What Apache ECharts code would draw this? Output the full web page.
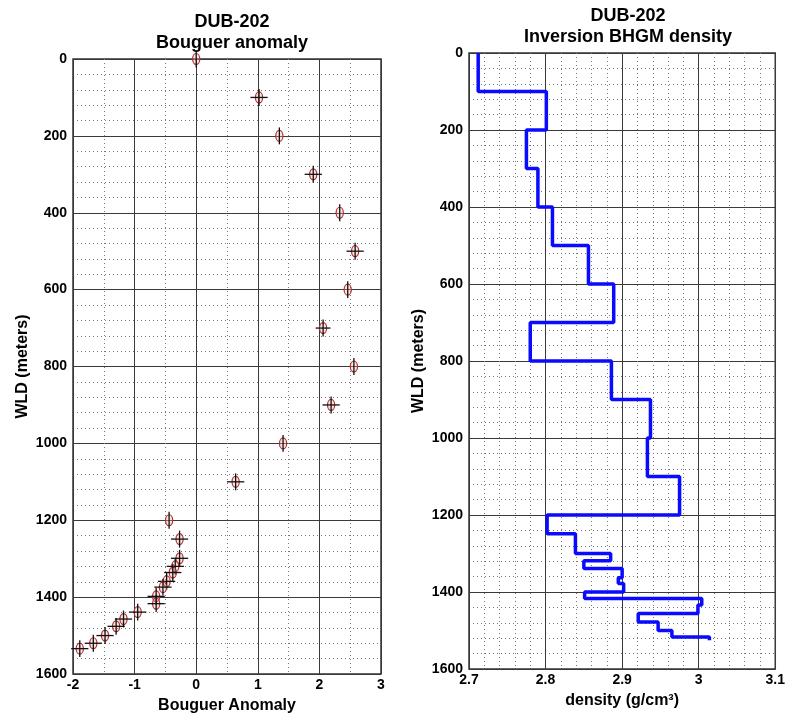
<!DOCTYPE html>
<html><head><meta charset="utf-8">
<script src="https://cdn.jsdelivr.net/npm/echarts@6/dist/echarts.min.js"></script>
<style>html,body{margin:0;padding:0;background:#fff}#c{width:788px;height:721px}</style>
</head><body><div id="c"></div>
<script>
// ---- Left panel: Bouguer anomaly measurements ----
const anomalyDepth = [0,100,200,300,400,500,600,700,800,900,1000,1100,1200,1249,1299,1320,1336,1359,1374,1398,1417,1439,1457,1476,1500,1520,1534];
const anomalyValue = [0.0,1.02,1.35,1.90,2.33,2.58,2.46,2.06,2.56,2.19,1.41,0.64,-0.44,-0.27,-0.27,-0.34,-0.38,-0.48,-0.54,-0.65,-0.65,-0.95,-1.18,-1.30,-1.48,-1.67,-1.89];
const anomalyXErr  = [0,0.14,0,0.14,0,0.14,0,0.12,0,0.14,0,0.14,0,0.14,0.14,0.14,0.14,0.14,0.14,0.14,0.14,0.14,0.14,0.14,0.14,0.14,0.14];
const anomalyYErr  = [22,22,22,22,22,22,22,22,22,22,22,22,22,22,22,22,22,22,22,22,22,22,22,22,22,22,22];
// ---- Right panel: inverted density layers ----
const layerTop     = [0,100,200,300,400,500,600,700,800,900,1000,1100,1200,1249,1300,1319,1339,1363,1378,1400,1417,1434,1456,1478,1500,1517];
const layerDensity = [2.712,2.801,2.775,2.790,2.809,2.856,2.889,2.780,2.886,2.937,2.933,2.975,2.802,2.839,2.885,2.850,2.900,2.895,2.902,2.851,3.004,2.999,2.921,2.947,2.965,3.014];
const layerBottomLast = 1525;
// ---- Axis ticks ----
const depthTicks   = [0,200,400,600,800,1000,1200,1400,1600];
const anomalyTicks = [-2,-1,0,1,2,3];
const densityTicks = [2.7,2.8,2.9,3.0,3.1];

const anomalyData = anomalyDepth.map((d,i)=>[anomalyValue[i], d, anomalyXErr[i], anomalyYErr[i]]);
const stepData = [];
layerTop.forEach((t,i)=>{
  const b = i < layerTop.length-1 ? layerTop[i+1] : layerBottomLast;
  stepData.push([layerDensity[i], t]);
  stepData.push([layerDensity[i], b]);
});

const FONT = '"Liberation Sans", Arial, sans-serif';
const labelStyle = {fontFamily: FONT, fontWeight:'bold', fontSize:14, color:'#000'};
const nameStyle = {fontFamily: FONT, fontWeight:'bold', fontSize:16, color:'#000'};
const majorLine = {show:true, lineStyle:{color:'#3a3a3a', width:1, type:'solid'}};
const minorLine = {show:true, lineStyle:{color:'#777', width:1, type:[1,3]}};
const fmt = v => String(+(+v).toFixed(2));

function xAx(gi, ticks, minorN, name, margin){
  return {type:'value', gridIndex:gi, min:ticks[0], max:ticks[ticks.length-1],
    interval:+(ticks[1]-ticks[0]).toFixed(6), position:'bottom',
    axisLine:{show:false}, axisTick:{show:false},
    axisLabel:Object.assign({margin:margin, formatter:fmt}, labelStyle),
    splitLine:majorLine, minorTick:{show:false, splitNumber:minorN}, minorSplitLine:minorLine,
    name:name, nameLocation:'middle', nameGap:24, nameTextStyle:nameStyle};
}
function yAx(gi, name){
  return {type:'value', gridIndex:gi, inverse:true, min:depthTicks[0], max:depthTicks[depthTicks.length-1],
    interval:depthTicks[1]-depthTicks[0],
    axisLine:{show:false}, axisTick:{show:false},
    axisLabel:Object.assign({margin:6, formatter:fmt}, labelStyle),
    splitLine:majorLine, minorTick:{show:false, splitNumber:5}, minorSplitLine:minorLine,
    name:name, nameLocation:'middle', nameGap:42, nameTextStyle:nameStyle};
}

const option = {
  backgroundColor:'#fff',
  animation:false,
  title:[
    {text:'DUB-202\nBouguer anomaly', left:227, top:7, textAlign:'center',
     textStyle:{fontFamily:FONT, fontWeight:'bold', fontSize:18, lineHeight:21, color:'#000'}},
    {text:'DUB-202\nInversion BHGM density', left:623, top:1, textAlign:'center',
     textStyle:{fontFamily:FONT, fontWeight:'bold', fontSize:18, lineHeight:21, color:'#000'}}
  ],
  grid:[
    {left:73, top:59, width:308, height:615, show:true, borderColor:'#333', borderWidth:1.5, backgroundColor:'#fff'},
    {left:469, top:53, width:309, height:616, show:true, borderColor:'#333', borderWidth:1.5, backgroundColor:'#fff'}
  ],
  xAxis:[ xAx(0, anomalyTicks, 2, 'Bouguer Anomaly', 4), xAx(1, densityTicks, 5, 'density (g/cm³)', 4) ],
  yAxis:[ yAx(0, 'WLD (meters)'), yAx(1, 'WLD (meters)') ],
  series:[
    {type:'custom', xAxisIndex:0, yAxisIndex:0, data:anomalyData, clip:false, z:5,
     renderItem:function(params, api){
       const x = api.value(0), y = api.value(1), ex = api.value(2), ey = api.value(3);
       const c = api.coord([x,y]);
       const l = api.coord([x-ex,y]), r = api.coord([x+ex,y]);
       const t = api.coord([x,y-ey]), b = api.coord([x,y+ey]);
       const children = [
         {type:'ellipse', shape:{cx:c[0], cy:c[1], rx:3.6, ry:5.5},
          style:{fill:'rgba(240,180,180,0.35)', stroke:'#b03030', lineWidth:1.2}},
         {type:'line', shape:{x1:t[0], y1:t[1], x2:b[0], y2:b[1]}, style:{stroke:'#111', lineWidth:1.3}}
       ];
       if (ex > 0) children.push({type:'line', shape:{x1:l[0], y1:l[1], x2:r[0], y2:r[1]}, style:{stroke:'#111', lineWidth:1.3}});
       return {type:'group', children:children};
     }},
    {type:'line', xAxisIndex:1, yAxisIndex:1, data:stepData, showSymbol:false, symbol:'none',
     lineStyle:{color:'#0a0aff', width:3.5}, z:5, clip:false}
  ]
};
const chart = echarts.init(document.getElementById('c'), null, {renderer:'canvas'});
chart.setOption(option);
</script>
</body></html>
